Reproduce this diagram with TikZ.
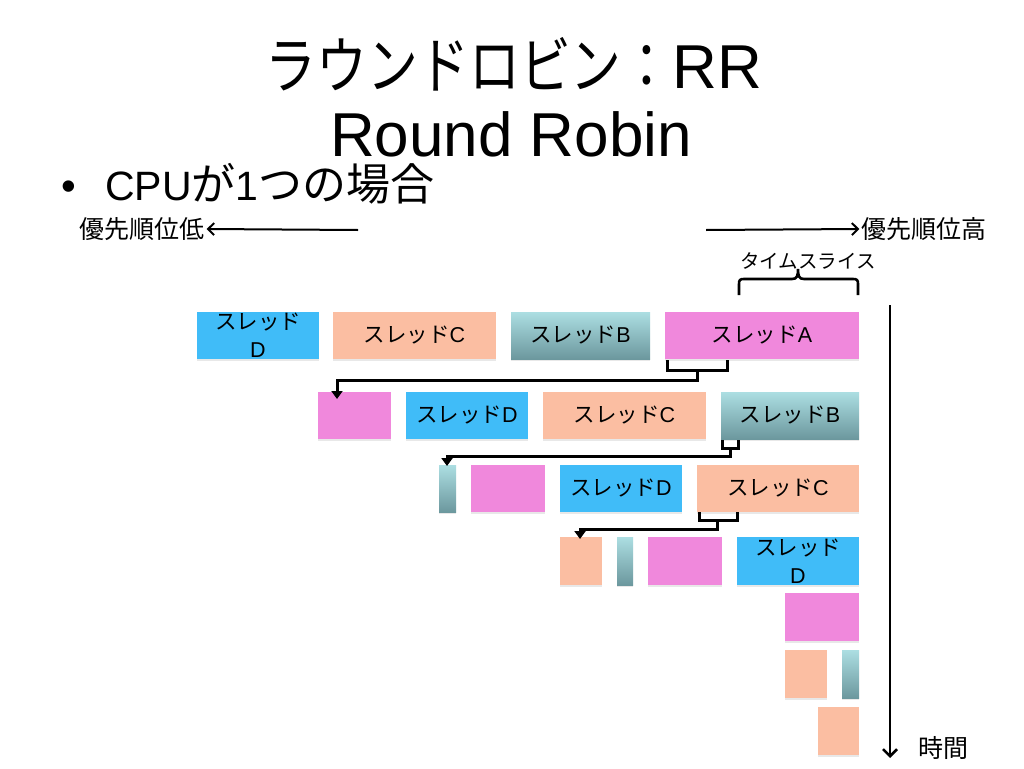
\documentclass[tikz,border=0pt]{standalone}
\usepackage{fontspec}
\usepackage{graphicx}
\setmainfont{Liberation Sans}
\newfontfamily\jp{Noto Sans CJK JP}
\usetikzlibrary{arrows.meta,shadows}
\definecolor{cblue}{RGB}{64,188,248}
\definecolor{cpeach}{RGB}{251,190,162}
\definecolor{cpink}{RGB}{240,136,220}
\definecolor{ctealtop}{RGB}{172,222,226}
\definecolor{ctealbot}{RGB}{108,152,158}
\newcommand{\J}[1]{{\jp #1}}
\begin{document}
\begin{tikzpicture}[x=1pt,y=-1pt,
  box/.style={inner sep=0pt,outer sep=0pt,anchor=north west,minimum height=47pt,align=center,
    font=\fontsize{21.5}{28}\selectfont,
    drop shadow={shadow xshift=0pt,shadow yshift=-2pt,opacity=0.18}},
  bl/.style={box,fill=cblue},
  pe/.style={box,fill=cpeach},
  pk/.style={box,fill=cpink},
  te/.style={box,top color=ctealtop,bottom color=ctealbot},
  lab/.style={inner sep=2pt,font=\jp\fontsize{25}{28}\selectfont},
  conn/.style={line width=3pt,line join=miter},
  connarrow/.style={conn,-{Triangle[length=8pt,width=11pt]}},
  thinarrow/.style={line width=2pt,-{Straight Barb[length=6pt,width=12pt]}},
  brace/.style={line width=2.6pt}
]
\fill[white] (0,0) rectangle (1024,768);
\useasboundingbox (0,0) rectangle (1024,768);

% title
\node[anchor=base,inner sep=0pt] (t1) at (514,88) {\fontsize{62}{70}\selectfont\scalebox{0.82}[1]{\jp ラウンドロビン：}RR};
\node[anchor=base,inner sep=0pt] (t2) at (511,156) {\fontsize{62}{70}\selectfont\raisebox{0pt}[\height][0pt]{Round Robin}};
\node[anchor=base west,inner sep=0pt] (bul) at (61,200) {\fontsize{42}{50}\selectfont •};
\node[anchor=base west,inner sep=0pt] (cpu) at (105,200) {\raisebox{0pt}[29pt][\depth]{\fontsize{41}{50}\selectfont CPU{\jp\fontsize{44}{50}\selectfont が}1{\jp\fontsize{44}{50}\selectfont つの場合}}};

% priority labels
\node[lab] (low) at (142,229) {優先順位低};
\node[lab] (high) at (924,229) {優先順位高};
\coordinate (lowstart) at (358,230);
\coordinate (highstart) at (706,230);
\draw[thinarrow] (lowstart) -- (low.east);
\draw[thinarrow] (highstart) -- (high.west);

% time slice
\node[lab,font=\jp\fontsize{19.5}{22}\selectfont] (ts) at (808,261) {タイムスライス};
\draw[brace] (739,295) -- (739,284) .. controls (739,280) and (740,279) .. (744,279) -- (792,279)
  .. controls (797,279) and (798,276) .. (798,269)
  .. controls (798,276) and (799,279) .. (804,279) -- (853,279)
  .. controls (857,279) and (858,280) .. (858,284) -- (858,295);

% time axis
\coordinate (tstart) at (890,305);
\node[lab] (time) at (943,748) {時間};
\coordinate (tend) at (890,758);
\draw[line width=2.6pt,-{Straight Barb[length=7pt,width=14pt]}] (tstart) -- (tend);

% row 1
\node[bl,minimum width=122pt] (r1d) at (197,312) {\J{スレッド}\\D};
\node[pe,minimum width=163pt] (r1c) at (333,312) {\J{スレッド}C};
\node[te,minimum width=139pt] (r1b) at (511,312) {\J{スレッド}B};
\node[pk,minimum width=194pt] (r1a) at (665,312) {\J{スレッド}A};
% row 2
\node[pk,minimum width=73pt] (r2a) at (318,392) {};
\node[bl,minimum width=122pt] (r2d) at (406,392) {\J{スレッド}D};
\node[pe,minimum width=163pt] (r2c) at (543,392) {\J{スレッド}C};
\node[te,minimum width=138pt] (r2b) at (721,392) {\J{スレッド}B};
% row 3
\node[te,minimum width=17pt] (r3b) at (439,465) {};
\node[pk,minimum width=74pt] (r3a) at (471,465) {};
\node[bl,minimum width=122pt] (r3d) at (560,465) {\J{スレッド}D};
\node[pe,minimum width=162pt] (r3c) at (697,465) {\J{スレッド}C};
% row 4
\node[pe,minimum width=42pt,minimum height=48pt] (r4c) at (560,537) {};
\node[te,minimum width=16pt,minimum height=48pt] (r4b) at (617,537) {};
\node[pk,minimum width=74pt,minimum height=48pt] (r4a) at (648,537) {};
\node[bl,minimum width=122pt,minimum height=48pt] (r4d) at (737,537) {\J{スレッド}\\D};
% rows 5-7
\node[pk,minimum width=74pt,minimum height=48pt] (r5a) at (785,593) {};
\node[pe,minimum width=42pt,minimum height=48pt] (r6c) at (785,650) {};
\node[te,minimum width=17pt,minimum height=48pt] (r6b) at (842,650) {};
\node[pe,minimum width=41pt,minimum height=48pt] (r7c) at (818,707) {};

% connector 1 (A moves to end)
\coordinate (b1l) at (667,360);
\coordinate (b1r) at (727,360);
\coordinate (b1m) at (697,370);
\coordinate (b1e) at (337,399);
\draw[conn] (b1l) -- (667,370) -- (727,370) -- (b1r);
\draw[connarrow] (b1m) -- (697,380) -- (337,380) -- (b1e);

% connector 2 (B moves to end)
\coordinate (b2l) at (722,440);
\coordinate (b2r) at (738,440);
\coordinate (b2m) at (730,448);
\coordinate (b2e) at (447,466);
\draw[conn] (b2l) -- (722,448) -- (738,448) -- (b2r);
\draw[connarrow] (b2m) -- (730,456) -- (447,456) -- (b2e);

% connector 3 (C moves to end)
\coordinate (b3l) at (699,512);
\coordinate (b3r) at (737,512);
\coordinate (b3m) at (717,520);
\coordinate (b3e) at (580,539);
\draw[conn] (b3l) -- (699,520) -- (737,520) -- (b3r);
\draw[connarrow] (b3m) -- (717,529) -- (580,529) -- (b3e);
\end{tikzpicture}
\end{document}
